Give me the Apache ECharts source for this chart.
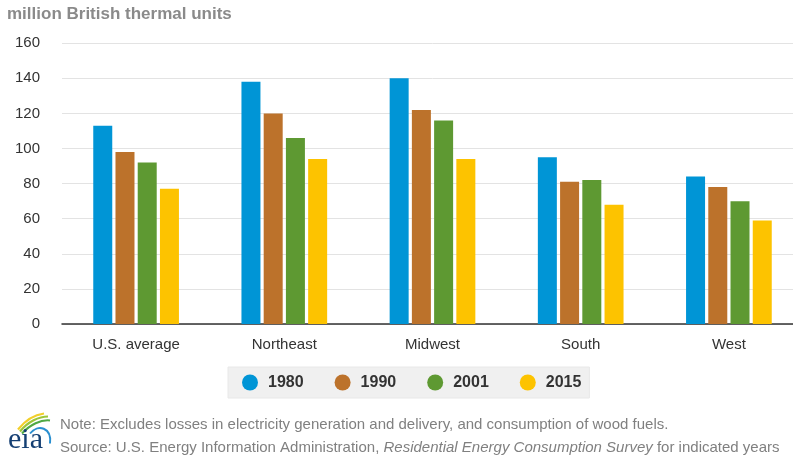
<!DOCTYPE html>
<html>
<head>
<meta charset="utf-8">
<script src="https://cdn.jsdelivr.net/npm/echarts@6/dist/echarts.min.js"></script>
<style>
  html, body { margin: 0; padding: 0; background: #fff; overflow: hidden; width: 793px; height: 457px; }
  /* plot area runs a little past the right edge of the window */
  #chart { width: 804px; height: 457px; }
</style>
</head>
<body>
<div id="chart"></div>
<script>
// Residential site energy consumption per household, by census region
const regions = ['U.S. average', 'Northeast', 'Midwest', 'South', 'West'];
const years = ['1980', '1990', '2001', '2015'];
const yearColors = ['#0095d6', '#bc722b', '#5e9932', '#fdc300'];
const values1980 = [113, 138, 140, 95, 84];
const values1990 = [98, 120, 122, 81, 78];
const values2001 = [92, 106, 116, 82, 70];
const values2015 = [77, 94, 94, 68, 59];
const yTicks = { min: 0, max: 160, step: 20 };

const seriesValues = [values1980, values1990, values2001, values2015];

const FONT = 'Arial, "Liberation Sans", Helvetica, sans-serif';

const chart = echarts.init(document.getElementById('chart'), null, { renderer: 'canvas' });

chart.setOption({
  animation: false,
  backgroundColor: '#ffffff',
  textStyle: { fontFamily: FONT },
  grid: { left: 62, top: 43.2, width: 741, height: 280.8, containLabel: false },
  xAxis: {
    type: 'category',
    data: regions,
    axisLine: { show: true, lineStyle: { color: '#333', width: 1.5 } },
    axisTick: { show: false },
    axisLabel: { color: '#333', fontSize: 15, margin: 13, fontFamily: FONT }
  },
  yAxis: {
    type: 'value',
    min: yTicks.min,
    max: yTicks.max,
    interval: yTicks.step,
    axisLine: { show: false },
    axisTick: { show: false },
    axisLabel: { color: '#333', fontSize: 15, margin: 22, fontFamily: FONT },
    splitLine: { lineStyle: { color: '#e3e3e3', width: 1 } }
  },
  legend: {
    data: years,
    left: 228,
    top: 367,
    orient: 'horizontal',
    icon: 'circle',
    itemWidth: 16,
    itemHeight: 16,
    itemGap: 31,
    padding: [7.5, 8, 7.5, 14],
    backgroundColor: '#f0f0f0',
    borderColor: '#e8e8e8',
    borderWidth: 1,
    textStyle: { color: '#333', fontSize: 16, fontWeight: 'bold', fontFamily: FONT, padding: [0, 0, 0, 5] }
  },
  series: years.map((y, i) => ({
    name: y,
    type: 'bar',
    data: seriesValues[i],
    barWidth: 19,
    barGap: '17%',
    itemStyle: { color: yearColors[i] }
  })),
  graphic: [
    {
      type: 'text',
      left: 7,
      top: 6,
      style: {
        text: 'million British thermal units',
        fill: '#8a8a8a',
        font: 'bold 17px ' + FONT
      }
    },
    {
      type: 'text',
      left: 60,
      top: 417,
      style: {
        text: 'Note: Excludes losses in electricity generation and delivery, and consumption of wood fuels.',
        fill: '#808080',
        font: '15px ' + FONT
      }
    },
    {
      type: 'text',
      left: 60,
      top: 440,
      style: {
        rich: {
          n: { fill: '#808080', font: '15px ' + FONT },
          i: { fill: '#808080', font: 'italic 15px ' + FONT }
        },
        text: '{n|Source: U.S. Energy Information Administration, }{i|Residential Energy Consumption Survey}{n| for indicated years}'
      }
    },
    // agency mark: swoosh strokes above the lowercase wordmark
    {
      type: 'group',
      left: 8,
      top: 411,
      children: [
        { type: 'bezierCurve', shape: { x1: 10, y1: 18, x2: 36, y2: 2, cpx1: 18, cpy1: 8, cpx2: 28, cpy2: 3 }, style: { stroke: '#f2cf2a', lineWidth: 2.2, fill: null } },
        { type: 'bezierCurve', shape: { x1: 12, y1: 20, x2: 40, y2: 5, cpx1: 20, cpy1: 10, cpx2: 31, cpy2: 5 }, style: { stroke: '#9cc63a', lineWidth: 2.2, fill: null } },
        { type: 'bezierCurve', shape: { x1: 14, y1: 22, x2: 42, y2: 9, cpx1: 22, cpy1: 13, cpx2: 33, cpy2: 8 }, style: { stroke: '#4fa844', lineWidth: 2, fill: null } },
        { type: 'bezierCurve', shape: { x1: 22, y1: 22, x2: 42, y2: 32, cpx1: 30, cpy1: 12, cpx2: 44, cpy2: 16 }, style: { stroke: '#2a8fd0', lineWidth: 2, fill: null } },
        {
          type: 'text',
          left: 0,
          top: 14,
          style: { text: 'eia', fill: '#143f73', font: '30px "Liberation Serif", "DejaVu Serif", serif' }
        }
      ]
    }
  ]
});
</script>
</body>
</html>
